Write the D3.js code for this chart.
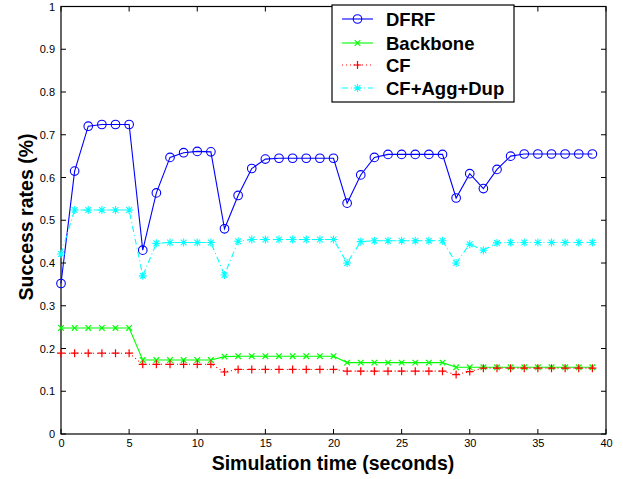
<!DOCTYPE html>
<html><head><meta charset="utf-8">
<script src="https://cdn.jsdelivr.net/npm/d3@7"></script>
<style>body{margin:0;background:#fff}svg{display:block}</style>
</head><body>
<script>
const times = d3.range(0, 40);
const dfrf = [0.352,0.615,0.720,0.724,0.724,0.724,0.430,0.564,0.647,0.658,0.661,0.660,0.480,0.558,0.621,0.643,0.645,0.645,0.645,0.645,0.645,0.540,0.606,0.647,0.654,0.654,0.654,0.654,0.654,0.552,0.609,0.574,0.619,0.650,0.655,0.655,0.655,0.655,0.655,0.655];
const backbone = [0.248,0.248,0.248,0.248,0.248,0.248,0.173,0.173,0.173,0.173,0.173,0.173,0.181,0.182,0.182,0.182,0.182,0.182,0.182,0.182,0.182,0.167,0.167,0.167,0.167,0.167,0.167,0.167,0.167,0.156,0.156,0.156,0.156,0.156,0.156,0.156,0.156,0.156,0.156,0.156];
const cf = [0.189,0.189,0.189,0.189,0.189,0.189,0.163,0.163,0.163,0.163,0.163,0.163,0.145,0.151,0.151,0.151,0.151,0.151,0.151,0.151,0.151,0.147,0.147,0.147,0.147,0.147,0.147,0.147,0.147,0.139,0.146,0.154,0.154,0.154,0.154,0.154,0.154,0.154,0.154,0.154];
const cfAgg = [0.421,0.524,0.524,0.524,0.524,0.524,0.370,0.446,0.448,0.448,0.448,0.448,0.372,0.451,0.455,0.455,0.455,0.455,0.455,0.455,0.455,0.400,0.450,0.452,0.452,0.452,0.452,0.452,0.452,0.400,0.444,0.430,0.447,0.448,0.448,0.448,0.448,0.448,0.448,0.448];
const seriesNames = ["DFRF","Backbone","CF","CF+Agg+Dup"];
const xTicks = [0,5,10,15,20,25,30,35,40];
const yTicks = [0,0.1,0.2,0.3,0.4,0.5,0.6,0.7,0.8,0.9,1];

const W=623,H=479, L=61, R=606, T=6.5, B=434;
const FONT="'Liberation Sans',Arial,Helvetica,sans-serif";
const svg=d3.select("body").append("svg").attr("width",W).attr("height",H)
  .style("font-family",FONT);
const x=d3.scaleLinear().domain([0,40]).range([L,R]);
const y=d3.scaleLinear().domain([0,1]).range([B,T]);

// axes box
svg.append("rect").attr("x",L).attr("y",T).attr("width",R-L).attr("height",B-T)
  .attr("fill","none").attr("stroke","#000").attr("stroke-width",1.2);
const ax=svg.append("g").attr("stroke","#000").attr("stroke-width",1);
xTicks.forEach(t=>{
  ax.append("line").attr("x1",x(t)).attr("x2",x(t)).attr("y1",B).attr("y2",B-5);
  ax.append("line").attr("x1",x(t)).attr("x2",x(t)).attr("y1",T).attr("y2",T+5);
});
yTicks.forEach(t=>{
  ax.append("line").attr("x1",L).attr("x2",L+5).attr("y1",y(t)).attr("y2",y(t));
  ax.append("line").attr("x1",R).attr("x2",R-5).attr("y1",y(t)).attr("y2",y(t));
});
const xAxis=d3.axisBottom(x).tickValues(xTicks).tickSize(0).tickPadding(5).tickFormat(d3.format("d"));
const gx=svg.append("g").attr("transform",`translate(0,${B})`).call(xAxis);
gx.select(".domain").remove();
gx.selectAll("text").attr("font-size",11).attr("fill","#000").attr("font-family",FONT);
const yAxis=d3.axisLeft(y).tickValues(yTicks).tickSize(0).tickPadding(6).tickFormat(d=>d===0?"0":d===1?"1":d3.format(".1f")(d));
const gy=svg.append("g").attr("transform",`translate(${L},0)`).call(yAxis);
gy.select(".domain").remove();
gy.selectAll("text").attr("font-size",11).attr("fill","#000").attr("font-family",FONT);

svg.append("text").attr("x",333).attr("y",470).attr("text-anchor","middle")
  .attr("font-size",19.5).attr("font-weight","bold").text("Simulation time (seconds)");
svg.append("text").attr("transform",`translate(33,217) rotate(-90)`).attr("text-anchor","middle")
  .attr("font-size",19.5).attr("font-weight","bold").text("Success rates (%)");

const styles=[
  {data:dfrf,color:"#0000ff",dash:null,marker:"o"},
  {data:backbone,color:"#00ff00",dash:null,marker:"x"},
  {data:cf,color:"#ff0000",dash:"1,3",marker:"+"},
  {data:cfAgg,color:"#00ffff",dash:"6,3,1,3",marker:"*"}
];
function drawMarker(g,type,cx,cy,color){
  if(type==="o"){
    g.append("circle").attr("cx",cx).attr("cy",cy).attr("r",4.3).attr("fill","none").attr("stroke",color).attr("stroke-width",1.1);
  } else if(type==="x"){
    const s=2.8;
    g.append("path").attr("d",`M${cx-s},${cy-s}L${cx+s},${cy+s}M${cx-s},${cy+s}L${cx+s},${cy-s}`).attr("stroke",color).attr("stroke-width",1.2);
  } else if(type==="+"){
    const s=4;
    g.append("path").attr("d",`M${cx-s},${cy}L${cx+s},${cy}M${cx},${cy-s}L${cx},${cy+s}`).attr("stroke",color).attr("stroke-width",1.2);
  } else if(type==="*"){
    const s=4, d=2.9;
    g.append("path").attr("d",`M${cx-s},${cy}L${cx+s},${cy}M${cx},${cy-s}L${cx},${cy+s}M${cx-d},${cy-d}L${cx+d},${cy+d}M${cx-d},${cy+d}L${cx+d},${cy-d}`).attr("stroke",color).attr("stroke-width",1.1);
  }
}
const line=d3.line().x((d,i)=>x(times[i])).y(d=>y(d));
styles.forEach(s=>{
  const g=svg.append("g");
  g.append("path").attr("d",line(s.data)).attr("fill","none").attr("stroke",s.color)
    .attr("stroke-width",1.1).attr("stroke-dasharray",s.dash);
  s.data.forEach((v,i)=>drawMarker(g,s.marker,x(times[i]),y(v),s.color));
});

// legend
const lg=svg.append("g");
lg.append("rect").attr("x",332).attr("y",5).attr("width",182).attr("height",97)
  .attr("fill","#fff").attr("stroke","#000").attr("stroke-width",1.2);
const ly=[19,43,65,88];
styles.forEach((s,i)=>{
  lg.append("line").attr("x1",342).attr("x2",373).attr("y1",ly[i]).attr("y2",ly[i])
    .attr("stroke",s.color).attr("stroke-width",1.1).attr("stroke-dasharray",s.dash);
  drawMarker(lg,s.marker,357.5,ly[i],s.color);
  lg.append("text").attr("x",386).attr("y",ly[i]+6.5).attr("font-size",18.5).attr("font-weight","bold").text(seriesNames[i]);
});
</script>
</body></html>
